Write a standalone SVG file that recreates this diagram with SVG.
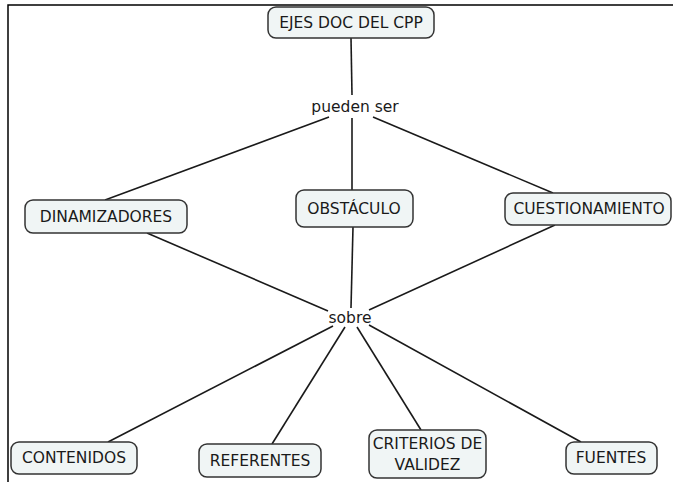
<svg xmlns="http://www.w3.org/2000/svg" width="673" height="482" viewBox="0 0 673 482">
<style>
.n rect{fill:#f0f5f5;stroke:#333;stroke-width:1.5}
text{font-family:"DejaVu Sans",Verdana,sans-serif;font-size:15.5px;fill:#1a1a1a;text-anchor:middle}
.c line{stroke:#1a1a1a;stroke-width:1.6}
</style>
<rect width="673" height="482" fill="#fff"/>
<path d="M8 482V5H673" fill="none" stroke="#000" stroke-width="1.5"/>
<g class="c">
<line x1="351" y1="38" x2="352" y2="95"/>
<line x1="329" y1="117" x2="105" y2="200"/>
<line x1="352" y1="118" x2="352" y2="190"/>
<line x1="373" y1="117" x2="553" y2="193"/>
<line x1="147" y1="233" x2="328" y2="311"/>
<line x1="353" y1="227" x2="351" y2="308"/>
<line x1="555" y1="225" x2="369" y2="310"/>
<line x1="333" y1="326" x2="108" y2="442"/>
<line x1="345" y1="327" x2="272" y2="444"/>
<line x1="357" y1="327" x2="421" y2="430"/>
<line x1="369" y1="325" x2="581" y2="442"/>
</g>
<g id="ejes" class="n"><rect x="268" y="7" width="166" height="31" rx="8"/><text x="351" y="28">EJES DOC DEL CPP</text></g>
<g id="pueden"><text x="355" y="112">pueden ser</text></g>
<g id="dinam" class="n"><rect x="25" y="200" width="162" height="33" rx="8"/><text x="106" y="222">DINAMIZADORES</text></g>
<g id="obst" class="n"><rect x="296" y="190" width="117" height="37" rx="8"/><text x="354" y="214">OBSTÁCULO</text></g>
<g id="cuest" class="n"><rect x="505" y="193" width="166" height="32" rx="8"/><text x="589" y="214">CUESTIONAMIENTO</text></g>
<g id="sobre"><text x="350" y="323">sobre</text></g>
<g id="cont" class="n"><rect x="11" y="442" width="126" height="32" rx="8"/><text x="74" y="463">CONTENIDOS</text></g>
<g id="ref" class="n"><rect x="199" y="444" width="122" height="33" rx="8"/><text x="260" y="466">REFERENTES</text></g>
<g id="crit" class="n"><rect x="369" y="430" width="117" height="48" rx="8"/><text x="427.5" y="449">CRITERIOS DE</text><text x="427.5" y="470">VALIDEZ</text></g>
<g id="fuen" class="n"><rect x="566" y="442" width="91" height="32" rx="8"/><text x="611" y="463">FUENTES</text></g>
</svg>
